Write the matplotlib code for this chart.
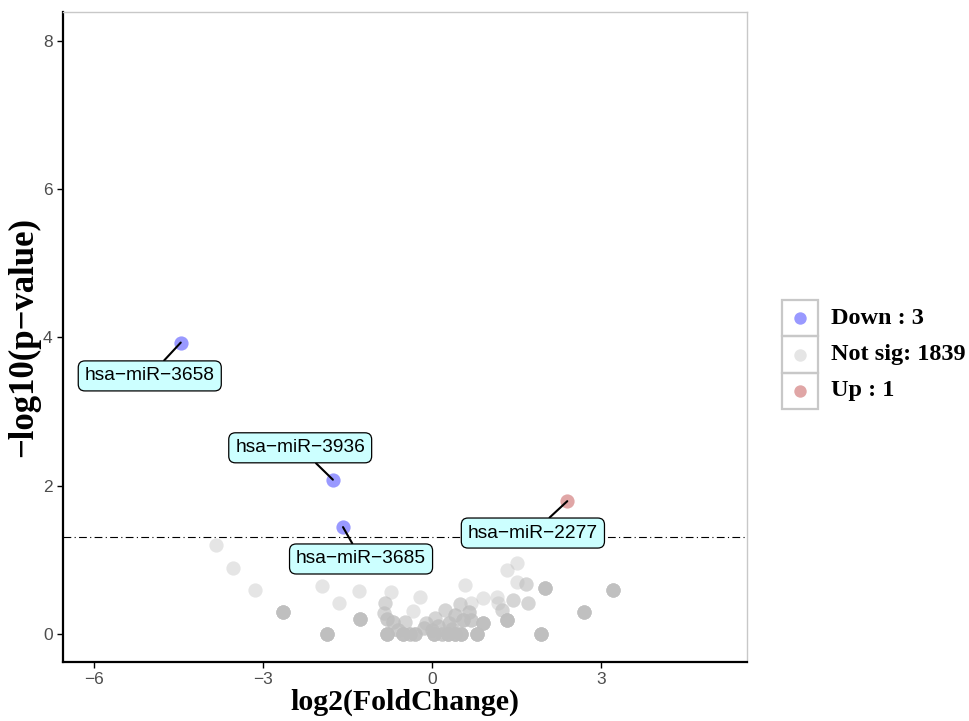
import numpy as np
import matplotlib
matplotlib.use("Agg")
import matplotlib.pyplot as plt
from matplotlib.patches import Rectangle

# labelled (significant) miRNAs
genes = ["hsa\u2212miR\u22123658", "hsa\u2212miR\u22123936", "hsa\u2212miR\u22123685", "hsa\u2212miR\u22122277"]
sig_fc = [-4.46, -1.76, -1.58, 2.40]
sig_p = [3.93, 2.08, 1.44, 1.79]
sig_group = ["Down", "Down", "Down", "Up"]
# where the label boxes sit
lab_fc = [-5.01, -2.34, -1.26, 1.79]
lab_p = [3.48, 2.51, 1.01, 1.36]

# not significant points (x, y, number of overlapping genes)
ns_fc = [-3.83, -3.53, -3.15, -2.65, -1.95, -1.86, -1.65, -1.29, -1.28, -0.83,
         -0.72, -0.86, -0.80, -0.69, -0.48, -0.21, -0.34, -0.80, -0.52, -0.40,
         -0.30, 0.04, 0.18, 0.28, 0.40, 0.52, 0.80, 1.93, 0.23, 0.41,
         0.59, 0.50, 0.65, 0.55, 0.70, 0.91, 0.90, 0.30, 0.10, 1.15,
         1.17, 1.24, 1.33, 1.33, 1.51, 1.51, 1.67, 2.00, 1.44, 1.71,
         2.70, 3.21, 0.00, -0.10, 0.05, -0.60, 0.70, -0.15, 0.35]
ns_p = [1.20, 0.89, 0.59, 0.30, 0.65, 0.00, 0.42, 0.58, 0.20, 0.42,
        0.57, 0.28, 0.20, 0.16, 0.16, 0.50, 0.31, 0.00, 0.00, 0.00,
        0.00, 0.00, 0.00, 0.00, 0.00, 0.00, 0.00, 0.00, 0.32, 0.26,
        0.66, 0.40, 0.30, 0.18, 0.18, 0.15, 0.49, 0.15, 0.10, 0.50,
        0.42, 0.32, 0.19, 0.86, 0.96, 0.70, 0.67, 0.62, 0.46, 0.41,
        0.29, 0.59, 0.05, 0.15, 0.22, 0.05, 0.42, 0.08, 0.06]
ns_n = [1, 1, 1, 7, 1, 7, 1, 1, 6, 2,
        1, 2, 3, 3, 2, 1, 1, 7, 7, 4,
        5, 7, 4, 7, 7, 7, 7, 7, 2, 3,
        1, 2, 3, 4, 3, 6, 1, 3, 3, 1,
        1, 2, 7, 1, 1, 1, 2, 6, 2, 2,
        6, 6, 3, 2, 2, 3, 1, 3, 3]

legend_labels = ["Down : 3", "Not sig: 1839", "Up : 1"]
colors = {"Down": "#0000ff", "Not sig": "#bebebe", "Up": "#b22222"}
alpha = 0.4
threshold = -np.log10(0.05)

fig = plt.figure(figsize=(9.7, 7.21), dpi=100)
ax = fig.add_axes([63/970, 59/721, 684/970, 650/721])

# grey points, overlapping genes drawn on top of each other
xs = np.repeat(ns_fc, ns_n)
ys = np.repeat(ns_p, ns_n)
ax.scatter(xs, ys, s=105, color=colors["Not sig"], alpha=alpha, linewidths=0, zorder=2)

for g in ["Down", "Up"]:
    idx = [i for i, s in enumerate(sig_group) if s == g]
    ax.scatter([sig_fc[i] for i in idx], [sig_p[i] for i in idx], s=105,
               color=colors[g], alpha=alpha, linewidths=0, zorder=3)

ax.axhline(threshold, color="black", lw=0.8, ls=(0, (7, 3, 1, 3)), zorder=1)

for name, x, y, tx, ty in zip(genes, sig_fc, sig_p, lab_fc, lab_p):
    ax.annotate(name, xy=(x, y), xytext=(tx, ty), ha="center", va="center",
                fontsize=13.8, family="Liberation Sans", color="black",
                bbox=dict(boxstyle="round,pad=0.34,rounding_size=0.35",
                          fc="#ccffff", ec="black", lw=0.9),
                arrowprops=dict(arrowstyle="-", color="black", lw=1.5,
                                shrinkA=0, shrinkB=0),
                zorder=5)

ax.set_xlim(-6.55, 5.59)
ax.set_ylim(-0.38, 8.39)
ax.set_xticks([-6, -3, 0, 3])
ax.set_yticks([0, 2, 4, 6, 8])
ax.tick_params(labelsize=12.5, labelcolor="#4d4d4d", color="black",
               length=4, width=1)
for lbl in ax.get_xticklabels() + ax.get_yticklabels():
    lbl.set_family("Liberation Sans")

for s in ["left", "bottom"]:
    ax.spines[s].set_color("black")
    ax.spines[s].set_linewidth(1.6)
for s in ["top", "right"]:
    ax.spines[s].set_color("#c8c8c8")
    ax.spines[s].set_linewidth(1.0)

ax.set_xlabel("log2(FoldChange)", fontsize=21.5, family="Liberation Serif",
              fontweight="bold", labelpad=1)
ax.set_ylabel("\u2212log10(p\u2212value)", fontsize=25, family="Liberation Serif",
              fontweight="bold", labelpad=2)

# legend drawn by hand to get the boxed keys
lax = fig.add_axes([782/970, (721-409)/721, 36/970, 109/721])
lax.set_xlim(0, 1)
lax.set_ylim(0, 3)
lax.axis("off")
key_groups = ["Down", "Not sig", "Up"]
for i, (g, lab) in enumerate(zip(key_groups, legend_labels)):
    yc = 2.5 - i
    lax.add_patch(Rectangle((0, yc - 0.5), 1, 1, fill=False, ec="#c8c8c8", lw=1.6,
                            clip_on=False))
    lax.scatter([0.5], [yc], s=80, color=colors[g], alpha=alpha, linewidths=0,
                clip_on=False)
    lax.text(1.35, yc, lab, fontsize=17.5, family="Liberation Serif",
             fontweight="bold", va="center", ha="left")

fig.savefig("out.png", dpi=100)
